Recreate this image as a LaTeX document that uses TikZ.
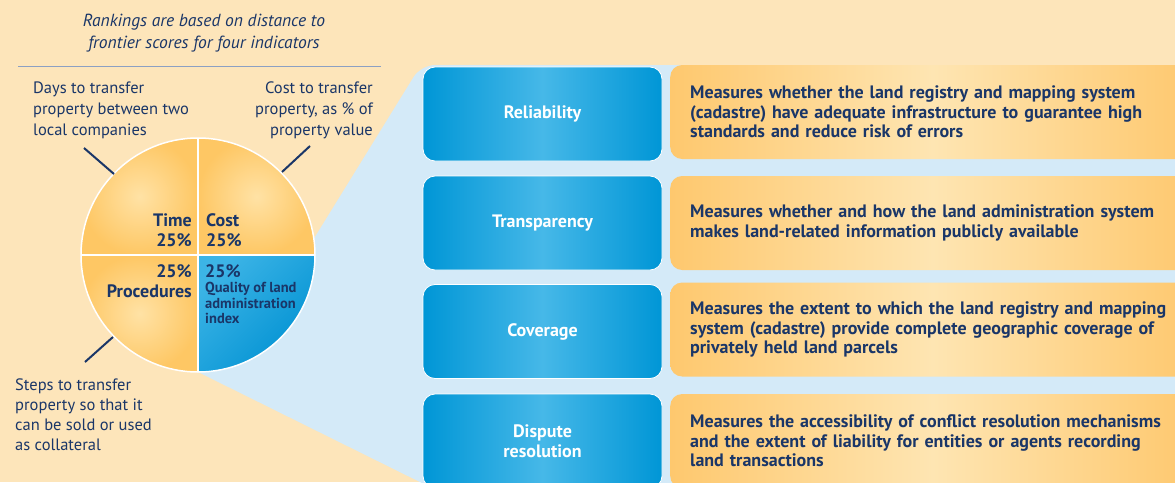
\documentclass[tikz,border=0pt]{standalone}
\usepackage{fontspec}
\setmainfont{PT Sans}
\usetikzlibrary{positioning}

\definecolor{peach}{RGB}{253,229,186}
\definecolor{panelblue}{RGB}{212,234,248}
\definecolor{navy}{RGB}{26,54,104}
\definecolor{rulegray}{RGB}{140,160,195}
\definecolor{boxblue}{RGB}{0,150,214}
\definecolor{boxlight}{RGB}{70,184,232}
\definecolor{boxorange}{RGB}{254,200,110}
\definecolor{orangelight}{RGB}{254,229,178}
\definecolor{pieorange}{RGB}{254,199,100}
\definecolor{pielight}{RGB}{255,226,165}
\definecolor{pieblue}{RGB}{0,145,210}
\definecolor{pieskyblue}{RGB}{60,180,230}

\pgfdeclarehorizontalshading{blueglow}{100bp}{color(0bp)=(boxblue); color(25bp)=(boxblue);
  color(50bp)=(boxlight); color(75bp)=(boxblue); color(100bp)=(boxblue)}
\pgfdeclarehorizontalshading{orangeglow}{100bp}{color(0bp)=(boxorange); color(25bp)=(boxorange);
  color(50bp)=(orangelight); color(75bp)=(boxorange); color(100bp)=(boxorange)}

\begin{document}
\begin{tikzpicture}[x=1pt, y=1pt,
    lbl/.style={text=navy, inner sep=0pt, font=\fontsize{16.5}{21}\selectfont},
    pielbl/.style={text=navy, inner sep=0pt, font=\bfseries\fontsize{18}{20}\selectfont},
    leader/.style={navy, line width=2pt},
    bluebox/.style={shading=blueglow, rounded corners=12pt, draw=white, line width=0.8pt,
        minimum width=239pt, minimum height=94pt, align=center, text=white,
        font=\bfseries\fontsize{18}{19.5}\selectfont},
    orangebox/.style={shading=orangeglow, rounded corners=12pt, anchor=west,
        minimum height=94pt, text width=485pt, inner xsep=20pt, align=left, text=navy,
        font=\bfseries\fontsize{18}{19.5}\selectfont}]

    % background and callout panel
    \fill[peach] (0,0) rectangle (1175,-482);
    \useasboundingbox (0,0) rectangle (1175,-482);
    \clip (0,0) rectangle (1175,-482);
    \coordinate (c) at (198,-255);
    \fill[panelblue] (c) -- ([shift={(c)}]8:117) [rounded corners=14pt] -- (421,-65)
        -- (1190,-65) [sharp corners] -- (1190,-490) -- (436,-490) -- (198,-372) -- cycle;

    % heading
    \node[lbl, align=center, font=\itshape\fontsize{17.5}{21.5}\selectfont] (head) at (204,-33)
        {Rankings are based on distance to\\frontier scores for four indicators};
    \coordinate (ruleL) at (18,-66);
    \coordinate (ruleR) at (381,-66);
    \draw[rulegray, line width=1pt] (ruleL) -- (ruleR);

    % pie
    \fill[shading=radial, inner color=pielight, outer color=pieorange]
        (c) -- +(180:117) arc (180:90:117) -- cycle;
    \fill[shading=radial, inner color=pielight, outer color=pieorange]
        (c) -- +(90:117) arc (90:0:117) -- cycle;
    \fill[shading=radial, inner color=pielight, outer color=pieorange]
        (c) -- +(-90:117) arc (-90:-180:117) -- cycle;
    \fill[left color=pieskyblue, right color=pieblue, shading angle=45]
        (c) -- +(0:117) arc (0:-90:117) -- cycle;
    \draw[white, line width=1.5pt] (c) circle (117);
    \draw[white, line width=1.5pt] (81,-255) -- (315,-255) (198,-138) -- (198,-372);

    \node[pielbl, anchor=east, align=right] (time) at (192,-230) {Time\\25\%};
    \node[pielbl, anchor=west, align=left] (cost) at (206,-230) {Cost\\25\%};
    \node[pielbl, anchor=east, align=right] (proc) at (192,-281) {25\%\\Procedures};
    \node[pielbl, anchor=west] (qpct) at (205,-271) {25\%};
    \node[pielbl, anchor=north west, align=left, font=\bfseries\fontsize{14.5}{15.5}\selectfont]
        (qual) at (205,-282) {Quality of land\\administration\\index};

    % outer labels
    \node[lbl, anchor=west, align=left] (days) at (33,-110)
        {Days to transfer\\property between two\\local companies};
    \node[lbl, anchor=east, align=right] (costtxt) at (373,-110)
        {Cost to transfer\\property, as \% of\\property value};
    \node[lbl, anchor=west, align=left, font=\fontsize{16.5}{20}\selectfont] (steps) at (15,-415)
        {Steps to transfer\\property so that it\\can be sold or used\\as collateral};
    \coordinate (daysA) at (84,-148);
    \coordinate (daysB) at (114,-174);
    \coordinate (costA) at (310,-146);
    \coordinate (costB) at (282,-172);
    \coordinate (stepsA) at (113,-337);
    \coordinate (stepsB) at (85,-362);
    \draw[leader] (daysA) -- (daysB);
    \draw[leader] (costA) -- (costB);
    \draw[leader] (stepsA) -- (stepsB);

    % indicator rows
    \node[bluebox] (rel) at (542.5,-114) {Reliability};
    \node[bluebox] (trans) at (542.5,-223) {Transparency};
    \node[bluebox] (cov) at (542.5,-331.5) {Coverage};
    \node[bluebox] (disp) at (542.5,-441) {Dispute\\resolution};

    \node[orangebox] (relD) at (670,-112) {Measures whether the land registry and mapping system\\
        (cadastre) have adequate infrastructure to guarantee high\\standards and reduce risk of errors};
    \node[orangebox] (transD) at (670,-223) {Measures whether and how the land administration system\\
        makes land-related information publicly available};
    \node[orangebox] (covD) at (670,-329.5) {Measures the extent to which the land registry and mapping\\
        system (cadastre) provide complete geographic coverage of\\privately held land parcels};
    \node[orangebox] (dispD) at (670,-441) {Measures the accessibility of conflict resolution mechanisms\\
        and the extent of liability for entities or agents recording\\land transactions};
\end{tikzpicture}
\end{document}
